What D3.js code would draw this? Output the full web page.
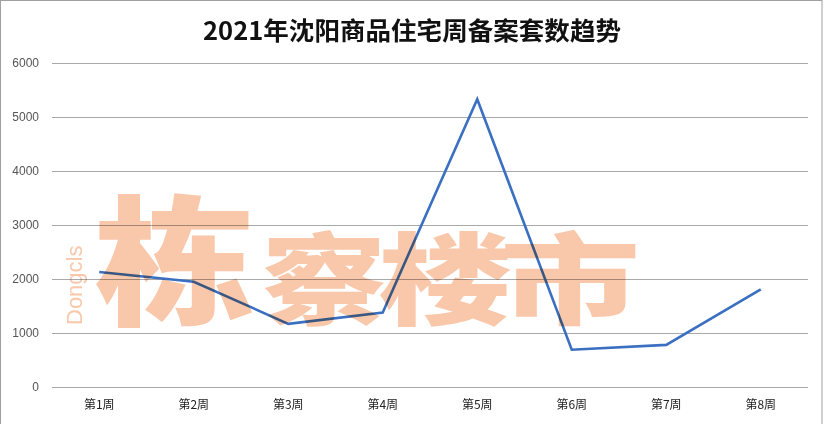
<!DOCTYPE html>
<html>
<head>
<meta charset="utf-8">
<script src="https://cdn.jsdelivr.net/npm/d3@7"></script>
<style>
  body { margin: 0; background: #fff; }
  svg { display: block; }
</style>
</head>
<body>
<svg id="chart" width="824" height="424"></svg>
<script>
var title = "2021年沈阳商品住宅周备案套数趋势"
var weeks = ["第1周", "第2周", "第3周", "第4周", "第5周", "第6周", "第7周", "第8周"]
var counts = [2130, 1950, 1170, 1380, 5330, 690, 780, 1810]
var yTicks = [0, 1000, 2000, 3000, 4000, 5000, 6000]

var svg = d3.select("#chart")

svg.append("rect").attr("x", 0.5).attr("y", 0.5).attr("width", 821.5).attr("height", 430)
    .style("fill", "#fff").style("stroke", "#a0a0a0")

var x = d3.scaleBand().domain(weeks).range([52, 808])
var y = d3.scaleLinear().domain([0, 6000]).range([387, 63])

// gridlines + y labels
var yAxis = d3.axisLeft(y).tickValues(yTicks).tickSize(-(808 - 52)).tickPadding(13).tickFormat(d3.format("d"))
var gy = svg.append("g").attr("transform", "translate(52,0)").call(yAxis)
gy.select(".domain").remove()
gy.selectAll(".tick line").style("stroke", "#a9a9a9").style("stroke-width", 1)
gy.selectAll(".tick text").style("font-family", "'Liberation Sans', sans-serif").style("font-size", "12px").style("fill", "#555")

// x labels
var xAxis = d3.axisBottom(x).tickSize(0).tickPadding(13)
var gx = svg.append("g").attr("transform", "translate(0,387)").call(xAxis)
gx.select(".domain").remove()
gx.selectAll(".tick text").style("font-family", "'Noto Sans CJK SC', sans-serif").style("font-size", "12px").style("fill", "#222")

// line
var line = d3.line().x(function(d, i) { return x(weeks[i]) + x.bandwidth() / 2 }).y(function(d) { return y(d) })
svg.append("path").datum(counts).attr("d", line)
    .style("fill", "none").style("stroke", "#3a6fc2").style("stroke-width", 2.6).style("stroke-linejoin", "miter")

// watermark
var wm = svg.append("g").style("mix-blend-mode", "multiply").style("fill", "#f9c8aa")
wm.append("text").attr("x", 94).attr("y", 314).text("栋").attr("textLength", 162).attr("lengthAdjust", "spacingAndGlyphs")
    .style("font-family", "'Noto Sans CJK SC'").style("font-weight", 900).style("font-size", "140px")
wm.append("text").attr("x", 262).attr("y", 317).text("察").attr("textLength", 124).attr("lengthAdjust", "spacingAndGlyphs")
    .style("font-family", "'Noto Sans CJK SC'").style("font-weight", 900).style("font-size", "100px")
wm.append("text").attr("x", 378).attr("y", 317).text("楼").attr("textLength", 134).attr("lengthAdjust", "spacingAndGlyphs")
    .style("font-family", "'Noto Sans CJK SC'").style("font-weight", 900).style("font-size", "100px")
wm.append("text").attr("x", 500).attr("y", 317).text("市").attr("textLength", 140).attr("lengthAdjust", "spacingAndGlyphs")
    .style("font-family", "'Noto Sans CJK SC'").style("font-weight", 900).style("font-size", "100px")
wm.append("text").attr("transform", "translate(82,325) rotate(-90)").text("Dongcls")
    .style("font-family", "'Liberation Sans', sans-serif").style("font-size", "22px")

// title
svg.append("text").attr("x", 412).attr("y", 40).attr("text-anchor", "middle").text(title)
    .attr("textLength", 418).attr("lengthAdjust", "spacingAndGlyphs")
    .style("font-family", "'Noto Sans CJK SC', sans-serif").style("font-weight", "bold").style("font-size", "25px").style("fill", "#111")
</script>
</body>
</html>
